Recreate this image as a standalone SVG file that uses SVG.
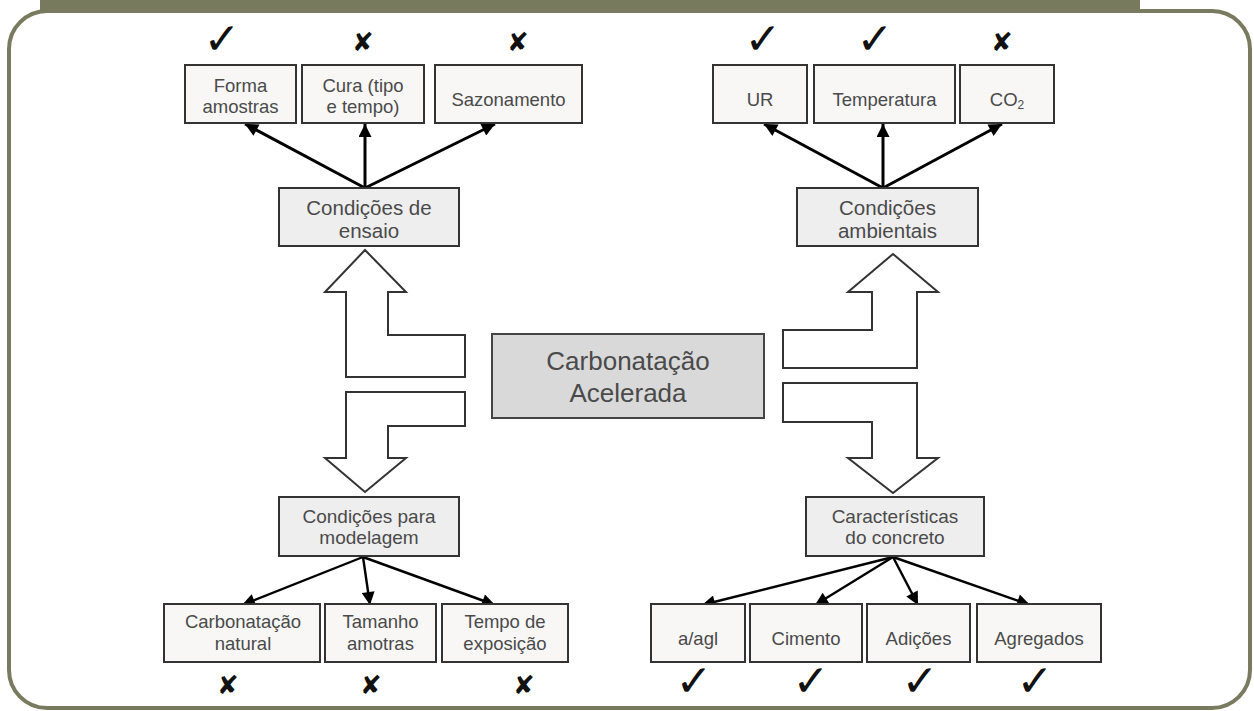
<svg xmlns="http://www.w3.org/2000/svg" width="1254" height="711" viewBox="0 0 1254 711">
<style>
.lbl{font-family:"Liberation Sans",Arial,sans-serif;fill:#4a4a4a;text-anchor:middle;font-size:18.5px}
.mid{font-size:20.5px}
.mid2{font-size:19px}
.ctr{font-size:26px}
.box{fill:#f8f7f6;stroke:#333;stroke-width:2}
.mbox{fill:#eeeeee;stroke:#333;stroke-width:2}
.cbox{fill:#d9d9d9;stroke:#444;stroke-width:2}
.blk{fill:#fff;stroke:#333;stroke-width:2;stroke-linejoin:miter}
.con{stroke:#000;fill:none;marker-end:url(#ah)}
.t3{stroke-width:3}
.t2{stroke-width:2.4}
.ck{font-family:"DejaVu Sans",sans-serif;fill:#111;text-anchor:middle;font-size:44px}
.xx{font-family:"DejaVu Sans",sans-serif;fill:#111;text-anchor:middle;font-size:26px}
</style>
<defs>
<marker id="ah" viewBox="0 0 10 10" refX="10" refY="5" markerWidth="16" markerHeight="13" markerUnits="userSpaceOnUse" orient="auto">
<path d="M0,0 L10,5 L0,10 z" fill="#000"/>
</marker>
</defs>
<rect width="1254" height="711" fill="#fff"/>
<rect x="40" y="0" width="1100" height="10" fill="#777a5d"/>
<rect x="9" y="11" width="1241" height="697" rx="38" fill="#fff" stroke="#787b5f" stroke-width="4"/>

<g id="connectors">
<path class="con t3" d="M365,188 L245,124"/>
<path class="con t3" d="M365,188 L365,124"/>
<path class="con t3" d="M365,188 L495,124"/>
<path class="con t3" d="M883,188 L764,124"/>
<path class="con t3" d="M883,188 L883,124"/>
<path class="con t3" d="M883,188 L1002,124"/>
<path class="con t2" d="M363,557 L242,605"/>
<path class="con t2" d="M363,557 L370,605"/>
<path class="con t2" d="M363,557 L495,605"/>
<path class="con t2" d="M893,557 L702,605"/>
<path class="con t2" d="M893,557 L815,605"/>
<path class="con t2" d="M893,557 L918,605"/>
<path class="con t2" d="M893,557 L1030,605"/>
<polygon class="blk" points="365,250 406,292 388,292 388,335 465,335 465,377 346,377 346,292 325,292"/>
<polygon class="blk" points="346,392 465,392 465,426 388,426 388,458 406,458 365,492 325,458 346,458"/>
<polygon class="blk" points="893,254 938,292 917,292 917,368 783,368 783,330 872,330 872,292 848,292"/>
<polygon class="blk" points="783,383 917,383 917,458 938,458 893,493 848,458 872,458 872,422 783,422"/>
</g>

<g id="center">
<rect class="cbox" x="492" y="334" width="272" height="84"/>
<text class="lbl ctr" x="628" y="370">Carbonatação</text>
<text class="lbl ctr" x="628" y="402">Acelerada</text>
</g>

<g id="cond-ensaio">
<rect class="mbox" x="279" y="188" width="180" height="58"/>
<text class="lbl mid" x="369" y="215">Condições de</text>
<text class="lbl mid" x="369" y="238">ensaio</text>
</g>
<g id="forma">
<rect class="box" x="185" y="65" width="111" height="58"/>
<text class="lbl" x="240.5" y="92">Forma</text>
<text class="lbl" x="240.5" y="113">amostras</text>
<text class="ck" x="222" y="54">✓</text>
</g>
<g id="cura">
<rect class="box" x="302" y="65" width="122" height="58"/>
<text class="lbl" x="363" y="92">Cura (tipo</text>
<text class="lbl" x="363" y="113">e tempo)</text>
<text class="xx" x="363" y="51">✘</text>
</g>
<g id="sazonamento">
<rect class="box" x="435" y="65" width="147" height="58"/>
<text class="lbl" x="508.5" y="106">Sazonamento</text>
<text class="xx" x="518" y="51">✘</text>
</g>

<g id="cond-ambientais">
<rect class="mbox" x="797" y="188" width="181" height="58"/>
<text class="lbl mid" x="887.5" y="215">Condições</text>
<text class="lbl mid" x="887.5" y="238">ambientais</text>
</g>
<g id="ur">
<rect class="box" x="713" y="65" width="94" height="58"/>
<text class="lbl" x="760" y="106">UR</text>
<text class="ck" x="763" y="54">✓</text>
</g>
<g id="temperatura">
<rect class="box" x="814" y="65" width="141" height="58"/>
<text class="lbl" x="884.5" y="106">Temperatura</text>
<text class="ck" x="875" y="54">✓</text>
</g>
<g id="co2">
<rect class="box" x="960" y="65" width="94" height="58"/>
<text class="lbl" x="1007" y="106">CO<tspan font-size="12" dy="3">2</tspan></text>
<text class="xx" x="1002" y="51">✘</text>
</g>

<g id="cond-modelagem">
<rect class="mbox" x="279" y="497" width="180" height="59"/>
<text class="lbl mid2" x="369" y="523">Condições para</text>
<text class="lbl mid2" x="369" y="544">modelagem</text>
</g>
<g id="carb-natural">
<rect class="box" x="164" y="604" width="156" height="58"/>
<text class="lbl" x="243" y="628">Carbonatação</text>
<text class="lbl" x="243" y="650">natural</text>
<text class="xx" x="228" y="694">✘</text>
</g>
<g id="tamanho">
<rect class="box" x="325" y="604" width="111" height="58"/>
<text class="lbl" x="380.5" y="628">Tamanho</text>
<text class="lbl" x="380.5" y="650">amotras</text>
<text class="xx" x="371" y="694">✘</text>
</g>
<g id="tempo">
<rect class="box" x="442" y="604" width="126" height="58"/>
<text class="lbl" x="505" y="628">Tempo de</text>
<text class="lbl" x="505" y="650">exposição</text>
<text class="xx" x="524" y="694">✘</text>
</g>

<g id="caracteristicas">
<rect class="mbox" x="806" y="497" width="178" height="59"/>
<text class="lbl mid2" x="895" y="523">Características</text>
<text class="lbl mid2" x="895" y="544">do concreto</text>
</g>
<g id="aagl">
<rect class="box" x="651" y="604" width="94" height="58"/>
<text class="lbl" x="698" y="645">a/agl</text>
<text class="ck" x="694" y="696">✓</text>
</g>
<g id="cimento">
<rect class="box" x="750" y="604" width="112" height="58"/>
<text class="lbl" x="806" y="645">Cimento</text>
<text class="ck" x="811" y="696">✓</text>
</g>
<g id="adicoes">
<rect class="box" x="867" y="604" width="103" height="58"/>
<text class="lbl" x="918.5" y="645">Adições</text>
<text class="ck" x="920" y="696">✓</text>
</g>
<g id="agregados">
<rect class="box" x="977" y="604" width="124" height="58"/>
<text class="lbl" x="1039" y="645">Agregados</text>
<text class="ck" x="1035" y="696">✓</text>
</g>
</svg>
